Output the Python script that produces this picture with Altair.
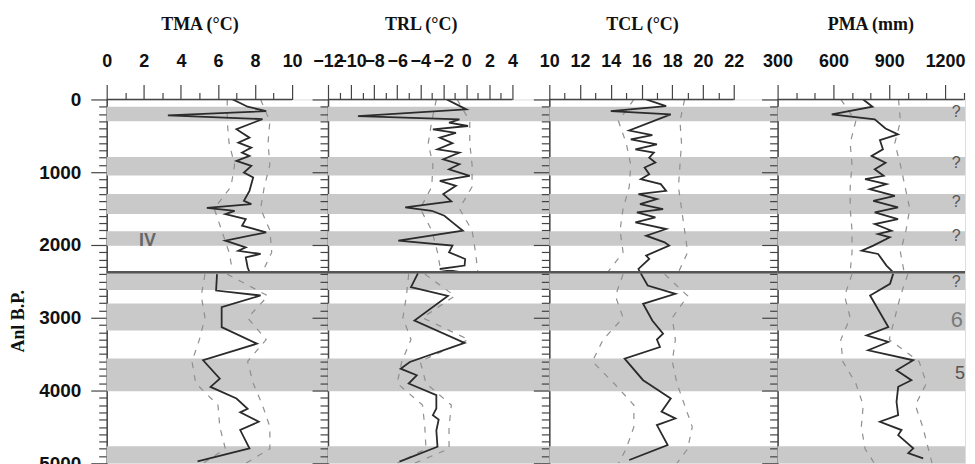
import altair as alt
import pandas as pd

AGE_DOMAIN = [0, 5000]
SEP_AGE = 2374

band_start = [100, 790, 1300, 1810, 2374, 2805, 3560, 4765]
band_end = [300, 1045, 1575, 2012, 2620, 3175, 4010, 5000]

# ---- panel meta ----
titles = ["TMA (°C)", "TRL (°C)", "TCL (°C)", "PMA (mm)"]
x_domains = [[0, 11.935], [-12, 7.2], [10, 24.85], [300, 1307]]
axis_lo = [0, -12, 10, 300]
axis_hi = [10, 4, 22, 1300]
tick_values = [
    [0, 1, 2, 3, 4, 5, 6, 7, 8, 9, 10],
    [-12, -11, -10, -9, -8, -7, -6, -5, -4, -3, -2, -1, 0, 1, 2, 3, 4],
    [10, 11, 12, 13, 14, 15, 16, 17, 18, 19, 20, 21, 22],
    [300, 400, 500, 600, 700, 800, 900, 1000, 1100, 1200, 1300],
]
major_step = [2, 2, 2, 300]
widths = [222, 222, 229, 188]

# ---- main curves (upper segment / lower segment) ----
tma_up_age = [0, 100, 160, 220, 270, 410, 525, 593, 662, 730, 776, 845, 913, 1005, 1073, 1256, 1393, 1438, 1490, 1530, 1575, 1644, 1735, 1826, 1941, 2032, 2080, 2123, 2170, 2306, 2374]
tma_up_val = [6.8, 7.6, 8.6, 3.3, 8.4, 7.0, 7.7, 7.1, 7.8, 7.3, 7.7, 7.0, 7.8, 7.4, 7.9, 7.7, 7.4, 7.8, 5.4, 6.9, 6.4, 7.5, 7.3, 8.6, 6.4, 7.5, 7.1, 8.3, 7.5, 7.6, 7.7]
tma_lo_age = [2400, 2626, 2694, 2854, 3128, 3356, 3584, 3836, 3950, 4110, 4250, 4300, 4429, 4543, 4795, 4973]
tma_lo_val = [5.95, 5.9, 8.3, 6.2, 6.2, 8.1, 5.2, 6.1, 5.6, 7.0, 7.6, 7.2, 8.2, 7.2, 7.7, 4.9]

trl_up_age = [0, 137, 228, 274, 320, 365, 411, 460, 525, 600, 685, 730, 822, 890, 960, 1050, 1120, 1187, 1301, 1400, 1484, 1530, 1598, 1689, 1804, 1941, 2009, 2100, 2192, 2283, 2330, 2374]
trl_up_val = [-1.7, 0.0, -9.4, -0.6, -1.5, 0.15, -2.9, -0.9, -2.3, -1.2, -2.5, -0.6, -2.0, -0.6, -1.5, 0.3, -2.3, -0.9, -2.0, -1.3, -5.3, -3.0, -1.9, -1.2, -0.3, -5.9, -1.2, -1.5, -0.1, -0.15, -2.3, -0.5]
trl_lo_age = [2390, 2580, 2700, 3037, 3345, 3607, 3700, 3790, 3904, 4064, 4247, 4338, 4400, 4550, 4772, 4977]
trl_lo_val = [-4.2, -4.8, -1.6, -4.5, -0.15, -4.9, -5.7, -4.3, -5.0, -2.6, -2.6, -2.9, -2.4, -2.6, -2.5, -5.8]

tcl_up_age = [0, 91, 160, 205, 427, 490, 550, 616, 685, 730, 799, 868, 936, 1027, 1096, 1164, 1256, 1301, 1370, 1438, 1507, 1553, 1621, 1689, 1781, 1872, 1963, 2009, 2146, 2192, 2329, 2374]
tcl_up_val = [16.3, 17.6, 14.0, 17.9, 15.2, 16.7, 15.3, 17.0, 15.6, 16.8, 16.5, 16.9, 16.2, 16.5, 15.95, 17.25, 17.6, 15.8, 17.0, 15.9, 17.4, 15.7, 16.9, 15.6, 17.6, 16.3, 17.5, 17.8, 16.3, 16.5, 15.8, 15.9]
tcl_lo_age = [2390, 2557, 2671, 2808, 3037, 3219, 3300, 3402, 3562, 3858, 3900, 4110, 4290, 4384, 4475, 4749, 4955]
tcl_lo_val = [15.95, 16.4, 18.2, 16.1, 16.7, 17.4, 17.0, 17.2, 14.9, 16.1, 16.4, 17.9, 17.3, 18.2, 17.0, 17.7, 15.2]

pma_up_age = [0, 100, 205, 274, 400, 480, 560, 685, 776, 870, 959, 1050, 1096, 1164, 1233, 1324, 1393, 1484, 1553, 1644, 1712, 1804, 1849, 1895, 2009, 2078, 2123, 2283, 2374]
pma_up_val = [760, 810, 591, 822, 880, 947, 850, 866, 805, 880, 822, 870, 770, 885, 795, 930, 814, 947, 822, 947, 822, 912, 840, 903, 814, 752, 840, 885, 920]
pma_lo_age = [2397, 2534, 2694, 2968, 3128, 3242, 3333, 3447, 3584, 3721, 3858, 3949, 4155, 4338, 4429, 4543, 4612, 4794, 4860, 4932]
pma_lo_val = [921, 904, 797, 859, 895, 778, 895, 787, 1029, 939, 1019, 948, 939, 948, 850, 966, 948, 1029, 1002, 1082]

# ---- dashed confidence bounds ----
bound_age_up = [0, 300, 600, 900, 1200, 1500, 1800, 2100, 2374]
bound_age_lo = [2400, 2700, 3000, 3300, 3600, 3900, 4200, 4500, 4800, 5000]

tma_min_up = [6.5, 6.5, 6.6, 6.9, 6.7, 5.8, 6.2, 6.6, 6.8]
tma_min_lo = [5.3, 5.1, 5.3, 5.0, 4.6, 4.8, 6.0, 6.1, 6.4, 5.2]
tma_max_up = [8.3, 8.8, 8.7, 8.8, 8.5, 8.3, 8.8, 8.9, 8.4]
tma_max_lo = [6.5, 8.7, 7.6, 8.6, 7.6, 7.9, 8.4, 8.8, 8.8, 7.5]

trl_min_up = [-2.6, -3.0, -3.3, -2.9, -3.0, -4.0, -3.0, -2.5, -2.2]
trl_min_lo = [-5.0, -5.2, -5.5, -4.8, -5.6, -6.0, -3.8, -3.6, -3.5, -6.0]
trl_max_up = [-0.8, 0.3, 0.3, 0.5, 0.5, -0.6, 0.5, 0.8, 1.0]
trl_max_lo = [-3.6, -1.0, -3.8, 0.2, -4.0, -3.5, -1.3, -1.5, -1.5, -4.5]

tcl_min_up = [15.5, 14.5, 15.0, 15.3, 15.2, 14.8, 14.6, 14.8, 13.8]
tcl_min_lo = [14.8, 14.3, 14.8, 13.5, 12.8, 14.2, 15.5, 15.5, 15.0, 14.5]
tcl_max_up = [18.8, 18.5, 18.6, 18.5, 18.4, 18.6, 18.8, 19.0, 18.4]
tcl_max_lo = [17.5, 19.0, 18.0, 18.2, 18.0, 18.3, 18.8, 19.3, 19.0, 18.3]

pma_min_up = [640, 720, 690, 700, 690, 690, 700, 700, 690]
pma_min_lo = [700, 660, 690, 640, 650, 720, 760, 750, 770, 820]
pma_max_up = [950, 960, 930, 960, 985, 1010, 990, 960, 980]
pma_max_lo = [1000, 960, 930, 900, 1060, 1100, 1040, 1080, 1110, 1130]

# ---- annotations ----
roman_text = ["IV"]
roman_x = [2.2]
roman_age = [1945]

zone_text = ["?", "?", "?", "?", "?", "6", "5"]
zone_age = [178, 868, 1413, 1872, 2507, 3037, 3767]
zone_x = [1259, 1259, 1259, 1259, 1259, 1263, 1280]
zone_size = [16, 16, 16, 16, 16, 22, 18]
zone_color = ["#555555", "#555555", "#555555", "#555555", "#555555", "#7a7a7a", "#555555"]

main_series = [
    (tma_up_age, tma_up_val, tma_lo_age, tma_lo_val),
    (trl_up_age, trl_up_val, trl_lo_age, trl_lo_val),
    (tcl_up_age, tcl_up_val, tcl_lo_age, tcl_lo_val),
    (pma_up_age, pma_up_val, pma_lo_age, pma_lo_val),
]
bound_series = [
    (tma_min_up, tma_min_lo, tma_max_up, tma_max_lo),
    (trl_min_up, trl_min_lo, trl_max_up, trl_max_lo),
    (tcl_min_up, tcl_min_lo, tcl_max_up, tcl_max_lo),
    (pma_min_up, pma_min_lo, pma_max_up, pma_max_lo),
]

FONT = "Liberation Sans"
SERIF = "Liberation Serif"
AXIS_COL = "#444444"
PLOT_H = 365

bands_df = pd.DataFrame({"bs": band_start, "be": band_end})
sep_df = pd.DataFrame({"a": [SEP_AGE]})


def y_axis(first):
    common = dict(
        values=list(range(0, 5001, 100)),
        tickSize={"condition": {"test": "datum.value % 1000 === 0", "value": 16}, "value": 8},
        tickColor=AXIS_COL,
        tickWidth=1.2,
        domain=True,
        domainColor=AXIS_COL,
        domainWidth=1.5,
        grid=False,
    )
    if first:
        return alt.Axis(
            labels=True,
            format="d",
            labelExpr="datum.value % 1000 === 0 ? datum.label : ''",
            labelOverlap=False,
            labelFont=FONT,
            labelFontSize=19,
            labelFontWeight="bold",
            labelColor="#111111",
            labelPadding=10,
            title="Anl B.P.",
            titleFont=SERIF,
            titleFontSize=18,
            titleFontWeight="bold",
            titleColor="#111111",
            titleX=-88,
            titleY=222,
            titleAngle=270,
            titleBaseline="middle",
            titleAlign="center",
            **common,
        )
    return alt.Axis(labels=False, title=None, **common)


def x_axis(i):
    m = major_step[i]
    return alt.Axis(
        orient="top",
        values=tick_values[i],
        format="d",
        labelExpr=f"datum.value % {m} === 0 ? datum.label : ''",
        tickSize={"condition": {"test": f"datum.value % {m} === 0", "value": 15}, "value": 7},
        tickColor=AXIS_COL,
        tickWidth=1.2,
        domain=False,
        grid=False,
        labelOverlap=False,
        labelFlush=False,
        labelBound=False,
        labelFont=FONT,
        labelFontSize=18,
        labelFontWeight="bold",
        labelColor="#111111",
        labelPadding=14,
        title=titles[i],
        titleFont=SERIF,
        titleFontSize=18,
        titleFontWeight="bold",
        titleColor="#111111",
        titleX=93,
        titlePadding=19,
    )


def panel(i):
    ys = alt.Scale(domain=AGE_DOMAIN, reverse=True, nice=False, zero=False)
    xs = alt.Scale(domain=x_domains[i], nice=False, zero=False)
    ya = y_axis(i == 0)
    xa = x_axis(i)

    ua, uv, la, lv = main_series[i]
    main_df = pd.DataFrame({
        "age": ua + la,
        "v": uv + lv,
        "seg": ["u"] * len(ua) + ["l"] * len(la),
    })
    mn_u, mn_l, mx_u, mx_l = bound_series[i]
    bnd_df = pd.DataFrame({
        "age": bound_age_up + bound_age_lo + bound_age_up + bound_age_lo,
        "v": mn_u + mn_l + mx_u + mx_l,
        "seg": (["min_u"] * len(bound_age_up) + ["min_l"] * len(bound_age_lo)
                + ["max_u"] * len(bound_age_up) + ["max_l"] * len(bound_age_lo)),
    })
    dom_df = pd.DataFrame({"lo": [axis_lo[i]], "hi": [axis_hi[i]], "a": [0]})

    X = lambda f: alt.X(f, scale=xs, axis=xa)
    Y = lambda f: alt.Y(f, scale=ys, axis=ya)

    bands = alt.Chart(bands_df).mark_rect(color="#c9c9c9").encode(
        y=Y("bs:Q"), y2="be:Q"
    )
    bounds = alt.Chart(bnd_df).mark_line(
        color="#8f8f8f", strokeWidth=1.2, strokeDash=[6, 7], clip=True
    ).encode(x=X("v:Q"), y=Y("age:Q"), detail="seg:N", order="age:Q")
    line = alt.Chart(main_df).mark_line(
        color="#2b2b2b", strokeWidth=1.8, clip=True
    ).encode(x=X("v:Q"), y=Y("age:Q"), detail="seg:N", order="age:Q")
    sep = alt.Chart(sep_df).mark_rule(color="#555555", strokeWidth=2.5).encode(
        y=Y("a:Q")
    )
    xdom = alt.Chart(dom_df).mark_rule(color=AXIS_COL, strokeWidth=1.4).encode(
        x=X("lo:Q"), x2="hi:Q", y=Y("a:Q")
    )
    layers = [bands, bounds, line, sep, xdom]

    if i == 0:
        rom_df = pd.DataFrame({"t": roman_text, "x": roman_x, "a": roman_age})
        layers.append(
            alt.Chart(rom_df).mark_text(
                font=FONT, fontSize=18, fontWeight="bold", color="#666666"
            ).encode(x=X("x:Q"), y=Y("a:Q"), text="t:N")
        )
    if i == 3:
        z_df = pd.DataFrame({"t": zone_text, "x": zone_x, "a": zone_age,
                             "s": zone_size, "c": zone_color})
        layers.append(
            alt.Chart(z_df).mark_text(font=FONT).encode(
                x=X("x:Q"), y=Y("a:Q"), text="t:N",
                size=alt.Size("s:Q", scale=None),
                color=alt.Color("c:N", scale=None),
            )
        )

    return alt.layer(*layers).properties(width=widths[i], height=PLOT_H)


chart = alt.hconcat(
    *[panel(i) for i in range(4)], spacing=0, bounds="flush"
).properties(
    padding={"left": 1, "top": 6, "right": 0, "bottom": 0}
).configure_view(stroke=None).configure(background="white")

chart.save("out.html", embed_options={"renderer": "svg", "actions": False})
